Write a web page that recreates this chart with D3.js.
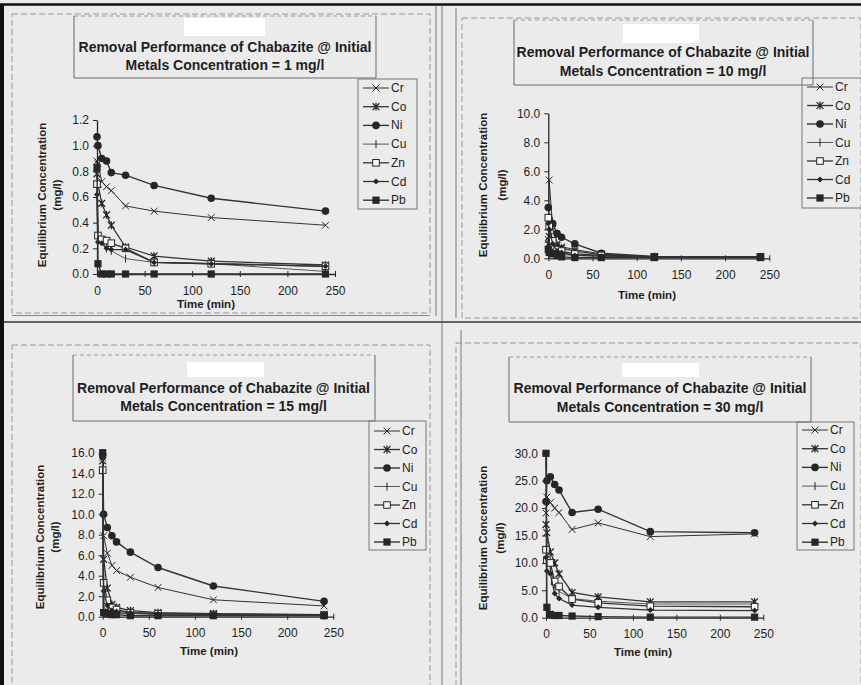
<!DOCTYPE html>
<html>
<head>
<meta charset="utf-8">
<script src="https://cdn.jsdelivr.net/npm/d3@7"></script>
<style>
  html, body { margin: 0; padding: 0; background: #ebebeb; }
  svg { display: block; font-family: "Liberation Sans", Arial, sans-serif; }
</style>
</head>
<body>
<svg id="chart" width="861" height="685"></svg>
<script>
// Sampling times (min) shared by every metal series
const times = [0, 1, 5, 10, 15, 30, 60, 120, 240];
const metals = ["Cr", "Co", "Ni", "Cu", "Zn", "Cd", "Pb"];
const initialConcentrations = ["1", "10", "15", "30"];
const xTicks = [0, 50, 100, 150, 200, 250];

// Equilibrium concentration (mg/l), one row per metal in the order of `metals`
const conc1Values = [
  [0.88, 0.86, 0.72, 0.68, 0.65, 0.53, 0.49, 0.44, 0.38],
  [0.78, 0.70, 0.55, 0.46, 0.38, 0.21, 0.14, 0.10, 0.07],
  [1.07, 1.00, 0.90, 0.88, 0.79, 0.77, 0.69, 0.59, 0.49],
  [0.84, 0.30, 0.26, 0.20, 0.18, 0.12, 0.09, 0.08, 0.02],
  [0.70, 0.30, 0.27, 0.26, 0.24, 0.20, 0.09, 0.08, 0.06],
  [0.62, 0.25, 0.24, 0.20, 0.19, 0.19, 0.09, 0.08, 0.06],
  [0.83, 0.08, 0.00, 0.00, 0.00, 0.00, 0.00, 0.00, 0.00]
];
const conc10Values = [
  [1.3, 5.4, 2.0, 1.0, 0.8, 0.6, 0.3, 0.1, 0.1],
  [1.0, 1.5, 1.2, 0.9, 0.7, 0.5, 0.25, 0.1, 0.1],
  [3.5, 2.7, 2.4, 1.7, 1.45, 1.0, 0.35, 0.12, 0.1],
  [0.8, 0.6, 0.4, 0.3, 0.25, 0.2, 0.15, 0.1, 0.1],
  [2.8, 2.2, 1.2, 0.6, 0.5, 0.3, 0.2, 0.1, 0.1],
  [2.4, 2.0, 1.0, 0.5, 0.4, 0.2, 0.15, 0.1, 0.1],
  [0.6, 0.4, 0.3, 0.2, 0.1, 0.05, 0.05, 0.05, 0.05]
];
const conc15Values = [
  [15.5, 7.9, 6.2, 5.0, 4.5, 3.85, 2.85, 1.65, 1.05],
  [15.2, 5.6, 2.8, 1.2, 0.9, 0.6, 0.4, 0.3, 0.2],
  [15.8, 10.0, 8.7, 7.9, 7.3, 6.3, 4.8, 3.0, 1.5],
  [15.0, 1.0, 0.5, 0.4, 0.3, 0.3, 0.2, 0.15, 0.1],
  [14.3, 3.3, 1.6, 0.9, 0.7, 0.4, 0.3, 0.2, 0.15],
  [15.5, 2.5, 1.1, 0.6, 0.5, 0.4, 0.3, 0.2, 0.15],
  [16.0, 0.4, 0.3, 0.2, 0.2, 0.1, 0.1, 0.1, 0.1]
];
const conc30Values = [
  [19.1, 22.0, 21.0, 20.0, 19.2, 16.1, 17.3, 14.8, 15.3],
  [17.0, 15.5, 12.0, 10.0, 8.0, 4.6, 3.8, 2.9, 2.9],
  [21.2, 25.0, 25.7, 24.3, 23.3, 19.2, 19.8, 15.7, 15.5],
  [28.5, 15.0, 9.0, 6.0, 4.8, 3.5, 3.0, 2.5, 2.5],
  [12.4, 10.5, 10.0, 6.6, 5.7, 3.4, 2.7, 2.1, 2.0],
  [11.0, 8.5, 8.0, 4.4, 3.5, 2.3, 1.9, 1.4, 1.3],
  [30.0, 1.9, 0.6, 0.4, 0.4, 0.3, 0.2, 0.1, 0.1]
];

const yTicks1 = [0, 0.2, 0.4, 0.6, 0.8, 1.0, 1.2];
const yTicks10 = [0, 2, 4, 6, 8, 10];
const yTicks15 = [0, 2, 4, 6, 8, 10, 12, 14, 16];
const yTicks30 = [0, 5, 10, 15, 20, 25, 30];

// Page geometry of the four chart panels
const panels = [
  { values: conc1Values, yTicks: yTicks1, conc: initialConcentrations[0],
    plot: { x0: 97, x1: 335, y0: 274, y1: 120 },
    frame: { x0: 12, x1: 430, y0: 14, y1: 313 },
    title: { x0: 74, x1: 376, y0: 16, y1: 78, cx: 225, l1: 46.7, l2: 64.7, rx: 184, ry: 18, rw: 81, rh: 18 },
    legend: { x0: 358, x1: 417, y0: 79, y1: 209, first: 88, step: 18.7 },
    ylab: { x1: 42, x2: 57, cy: 195 }, xlab: { cx: 206, y: 304 } },
  { values: conc10Values, yTicks: yTicks10, conc: initialConcentrations[1],
    plot: { x0: 548.3, x1: 769.3, y0: 258.3, y1: 113.3 },
    frame: { x0: 462, x1: 861, y0: 18, y1: 318 },
    title: { x0: 514, x1: 813, y0: 20, y1: 85, cx: 663, l1: 52.3, l2: 71, rx: 623, ry: 24, rw: 76, rh: 19 },
    legend: { x0: 802, x1: 863, y0: 78, y1: 208, first: 87, step: 18.5 },
    ylab: { x1: 483, x2: 502, cy: 185 }, xlab: { cx: 647, y: 295 } },
  { values: conc15Values, yTicks: yTicks15, conc: initialConcentrations[2],
    plot: { x0: 102.7, x1: 333.3, y0: 616.7, y1: 452.7 },
    frame: { x0: 12, x1: 430, y0: 345, y1: 690 },
    title: { x0: 73, x1: 375, y0: 355, y1: 421, cx: 223.5, l1: 387.7, l2: 406, rx: 187, ry: 362, rw: 77, rh: 15 },
    legend: { x0: 369, x1: 426, y0: 421, y1: 550, first: 431, step: 18.5 },
    ylab: { x1: 40, x2: 55, cy: 537 }, xlab: { cx: 209, y: 651 } },
  { values: conc30Values, yTicks: yTicks30, conc: initialConcentrations[3],
    plot: { x0: 546, x1: 763.3, y0: 617.7, y1: 453.3 },
    frame: { x0: 456, x1: 861, y0: 343, y1: 690 },
    title: { x0: 509, x1: 811, y0: 357, y1: 422, cx: 660, l1: 387.7, l2: 406.7, rx: 622, ry: 363, rw: 77, rh: 14 },
    legend: { x0: 797, x1: 854, y0: 422, y1: 550, first: 430, step: 18.7 },
    ylab: { x1: 483, x2: 500, cy: 538 }, xlab: { cx: 643, y: 652 } }
];

const ink = "#262626";
const lineInk = "#333";
const lineWidths = { Cr: 1, Co: 1.3, Ni: 1.4, Cu: 0.8, Zn: 1.3, Cd: 1.3, Pb: 1.4 };

const svg = d3.select("#chart");

// Sheet borders
const sheet = svg.append("g").attr("fill", "none");
sheet.append("line").attr("x1", 0).attr("x2", 861).attr("y1", 4.5).attr("y2", 4.5)
  .attr("stroke", "#111").attr("stroke-width", 2.5);
sheet.append("line").attr("x1", 2).attr("x2", 2).attr("y1", 4).attr("y2", 685)
  .attr("stroke", "#111").attr("stroke-width", 4);
sheet.append("line").attr("x1", 4).attr("x2", 861).attr("y1", 322).attr("y2", 322)
  .attr("stroke", "#333").attr("stroke-width", 1.5);
sheet.append("line").attr("x1", 12).attr("x2", 430).attr("y1", 315.5).attr("y2", 315.5)
  .attr("stroke", "#888").attr("stroke-width", 1);
[[436, 6, 316], [442, 6, 685], [456, 8, 318], [461, 330, 685]].forEach(([lx, a, b]) => {
  sheet.append("line").attr("x1", lx).attr("x2", lx).attr("y1", a).attr("y2", b)
    .attr("stroke", "#777").attr("stroke-width", 1);
});

function drawMarker(g, metal, cx, cy) {
  const s = 3.4;
  if (metal === "Cr") {
    g.append("path").attr("d", `M${cx - s},${cy - s}L${cx + s},${cy + s}M${cx - s},${cy + s}L${cx + s},${cy - s}`)
      .attr("stroke", ink).attr("stroke-width", 1).attr("fill", "none");
  } else if (metal === "Co") {
    g.append("path").attr("d", `M${cx - s},${cy - s}L${cx + s},${cy + s}M${cx - s},${cy + s}L${cx + s},${cy - s}M${cx},${cy - s - 0.5}L${cx},${cy + s + 0.5}`)
      .attr("stroke", ink).attr("stroke-width", 1.3).attr("fill", "none");
  } else if (metal === "Ni") {
    g.append("circle").attr("cx", cx).attr("cy", cy).attr("r", 3.8).attr("fill", ink);
  } else if (metal === "Cu") {
    g.append("path").attr("d", `M${cx},${cy - 4}L${cx},${cy + 4}`)
      .attr("stroke", ink).attr("stroke-width", 1).attr("fill", "none");
  } else if (metal === "Zn") {
    g.append("rect").attr("x", cx - 3.3).attr("y", cy - 3.3).attr("width", 6.6).attr("height", 6.6)
      .attr("fill", "#f7f7f7").attr("stroke", ink).attr("stroke-width", 1);
  } else if (metal === "Cd") {
    g.append("path").attr("d", `M${cx},${cy - 3}L${cx + 3},${cy}L${cx},${cy + 3}L${cx - 3},${cy}Z`)
      .attr("fill", ink);
  } else if (metal === "Pb") {
    g.append("rect").attr("x", cx - 3.6).attr("y", cy - 3.6).attr("width", 7.2).attr("height", 7.2)
      .attr("fill", ink);
  }
}

function drawPanel(p) {
  const g = svg.append("g");

  // dashed panel frame
  g.append("rect").attr("x", p.frame.x0).attr("y", p.frame.y0)
    .attr("width", p.frame.x1 - p.frame.x0).attr("height", p.frame.y1 - p.frame.y0)
    .attr("fill", "none").attr("stroke", "#9a9a9a").attr("stroke-width", 1)
    .attr("stroke-dasharray", "6,3");

  // title box
  const t = p.title;
  g.append("line").attr("x1", t.x0).attr("x2", t.x1).attr("y1", t.y0).attr("y2", t.y0)
    .attr("stroke", "#999").attr("stroke-dasharray", "4,3");
  g.append("path").attr("d", `M${t.x0},${t.y0}V${t.y1}H${t.x1}V${t.y0}`)
    .attr("fill", "none").attr("stroke", "#6a6a6a").attr("stroke-width", 1);
  g.append("rect").attr("x", t.rx).attr("y", t.ry).attr("width", t.rw).attr("height", t.rh).attr("fill", "#fff");
  g.append("text").attr("x", t.cx).attr("y", t.l1).attr("text-anchor", "middle")
    .attr("dominant-baseline", "central").attr("font-size", 14).attr("font-weight", "bold").attr("fill", "#1e1e1e")
    .text("Removal Performance of Chabazite @ Initial");
  g.append("text").attr("x", t.cx).attr("y", t.l2).attr("text-anchor", "middle")
    .attr("dominant-baseline", "central").attr("font-size", 14).attr("font-weight", "bold").attr("fill", "#1e1e1e")
    .text(`Metals Concentration = ${p.conc} mg/l`);

  // scales
  const x = d3.scaleLinear().domain([0, 250]).range([p.plot.x0, p.plot.x1]);
  const y = d3.scaleLinear().domain([0, d3.max(p.yTicks)]).range([p.plot.y0, p.plot.y1]);

  // y axis
  const yAxisG = g.append("g").attr("transform", `translate(${p.plot.x0},0)`)
    .call(d3.axisLeft(y).tickValues(p.yTicks).tickFormat(d3.format(".1f")).tickSizeInner(4).tickSizeOuter(0).tickPadding(4));
  // x axis with crossing ticks
  const xAxisG = g.append("g").attr("transform", `translate(0,${p.plot.y0})`)
    .call(d3.axisBottom(x).tickValues(xTicks).tickSizeInner(3).tickSizeOuter(0).tickPadding(9));
  xAxisG.selectAll(".tick line").attr("y1", -3).attr("y2", 3);
  [yAxisG, xAxisG].forEach(a => {
    a.attr("font-family", null).attr("font-size", null);
    a.select(".domain").attr("stroke", ink).attr("stroke-width", 1.3);
    a.selectAll(".tick line").attr("stroke", ink).attr("stroke-width", 1);
    a.selectAll(".tick text").attr("font-size", 12).attr("fill", "#1e1e1e");
  });

  // axis titles
  g.append("text").attr("x", p.xlab.cx).attr("y", p.xlab.y).attr("text-anchor", "middle")
    .attr("dominant-baseline", "central").attr("font-size", 11.5).attr("font-weight", "bold").attr("fill", "#1e1e1e")
    .text("Time (min)");
  g.append("text").attr("transform", `translate(${p.ylab.x1},${p.ylab.cy}) rotate(-90)`)
    .attr("text-anchor", "middle").attr("dominant-baseline", "central")
    .attr("font-size", 11.5).attr("font-weight", "bold").attr("fill", "#1e1e1e").text("Equilibrium Concentration");
  g.append("text").attr("transform", `translate(${p.ylab.x2},${p.ylab.cy}) rotate(-90)`)
    .attr("text-anchor", "middle").attr("dominant-baseline", "central")
    .attr("font-size", 11.5).attr("font-weight", "bold").attr("fill", "#1e1e1e").text("(mg/l)");

  // series
  const line = d3.line().x((d, i) => x(times[i])).y(d => y(d));
  metals.forEach((m, k) => {
    const vals = p.values[k];
    const sg = g.append("g");
    sg.append("path").datum(vals).attr("d", line).attr("fill", "none")
      .attr("stroke", lineInk).attr("stroke-width", lineWidths[m]);
    vals.forEach((v, i) => drawMarker(sg, m, x(times[i]), y(v)));
  });

  // legend
  const L = p.legend;
  g.append("rect").attr("x", L.x0).attr("y", L.y0).attr("width", L.x1 - L.x0).attr("height", L.y1 - L.y0)
    .attr("fill", "none").attr("stroke", "#777").attr("stroke-width", 1);
  metals.forEach((m, k) => {
    const ly = L.first + k * L.step;
    g.append("line").attr("x1", L.x0 + 5).attr("x2", L.x0 + 31).attr("y1", ly).attr("y2", ly)
      .attr("stroke", lineInk).attr("stroke-width", lineWidths[m]);
    drawMarker(g, m, L.x0 + 18, ly);
    g.append("text").attr("x", L.x0 + 33).attr("y", ly).attr("dominant-baseline", "central")
      .attr("font-size", 12).attr("fill", "#1e1e1e").text(m);
  });
}

panels.forEach(drawPanel);
</script>
</body>
</html>
